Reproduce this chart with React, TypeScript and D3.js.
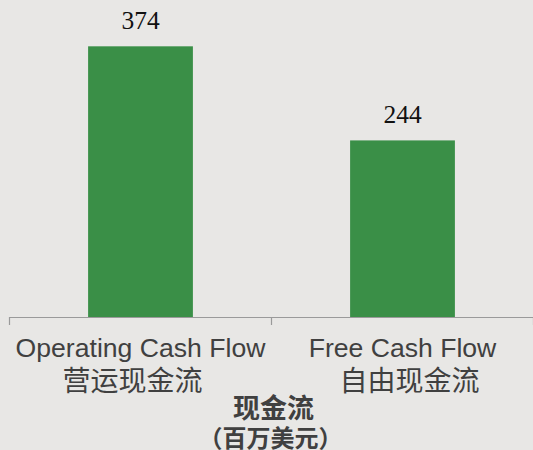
import React from "react";
import * as d3 from "d3";

const categoriesEn = ["Operating Cash Flow", "Free Cash Flow"];
const categoriesZh = ["营运现金流", "自由现金流"];
const zhOffsets = [-8, 7];
const values = [374, 244];
const axisTitle = "现金流";
const axisSubtitle = "（百万美元）";

const W = 533;
const H = 450;

export default function App() {
  const x = d3
    .scaleBand<number>()
    .domain(values.map((_, i) => i))
    .range([9.5, 533.5])
    .paddingInner(0.6)
    .paddingOuter(0.3);
  const y = d3.scaleLinear().domain([0, 400]).range([317, 27.5]);
  const step = x.step();
  const axisY = y(0);
  const tickXs = [0, 1, 2].map((k) => 9.5 + k * step);
  const sans = "'Liberation Sans', Arial, sans-serif";
  const cjk = "'Noto Sans CJK SC', sans-serif";
  const centerX = (9.5 + 9.5 + 2 * step) / 2;

  return (
    <svg
      width={W}
      height={H}
      style={{ position: "absolute", left: 0, top: 0, display: "block" }}
    >
      <rect x={0} y={0} width={W} height={H} fill="#e8e7e5" />
      {values.map((v, i) => (
        <rect
          key={i}
          x={x(i)!}
          y={y(v)}
          width={x.bandwidth()}
          height={y(0) - y(v)}
          fill="#3a8f47"
        />
      ))}
      {values.map((v, i) => (
        <text
          key={"v" + i}
          x={x(i)! + x.bandwidth() / 2}
          y={y(v) - 17}
          textAnchor="middle"
          fontFamily="'Liberation Serif', 'Times New Roman', serif"
          fontSize={25.5}
          fill="#111"
        >
          {v}
        </text>
      ))}
      <line x1={9.5} x2={W} y1={axisY + 0.5} y2={axisY + 0.5} stroke="#9a9a9a" strokeWidth={1.2} />
      {tickXs.map((tx, i) => (
        <line key={"t" + i} x1={tx} x2={tx} y1={axisY} y2={axisY + 8} stroke="#9a9a9a" strokeWidth={1.2} />
      ))}
      {categoriesEn.map((c, i) => (
        <g key={"c" + i}>
          <text
            x={x(i)! + x.bandwidth() / 2}
            y={357}
            textAnchor="middle"
            fontFamily={sans}
            fontSize={26.6}
            fill="#404040"
          >
            {c}
          </text>
          <text
            x={x(i)! + x.bandwidth() / 2 + zhOffsets[i]}
            y={391}
            textAnchor="middle"
            fontFamily={cjk}
            fontSize={28}
            fill="#404040"
          >
            {categoriesZh[i]}
          </text>
        </g>
      ))}
      <text
        x={centerX + 2}
        y={418}
        textAnchor="middle"
        fontFamily={cjk}
        fontWeight="bold"
        fontSize={27}
        fill="#404040"
      >
        {axisTitle}
      </text>
      <text
        x={centerX - 1}
        y={446.5}
        textAnchor="middle"
        fontFamily={cjk}
        fontWeight="bold"
        fontSize={24}
        fill="#404040"
      >
        {axisSubtitle}
      </text>
    </svg>
  );
}
